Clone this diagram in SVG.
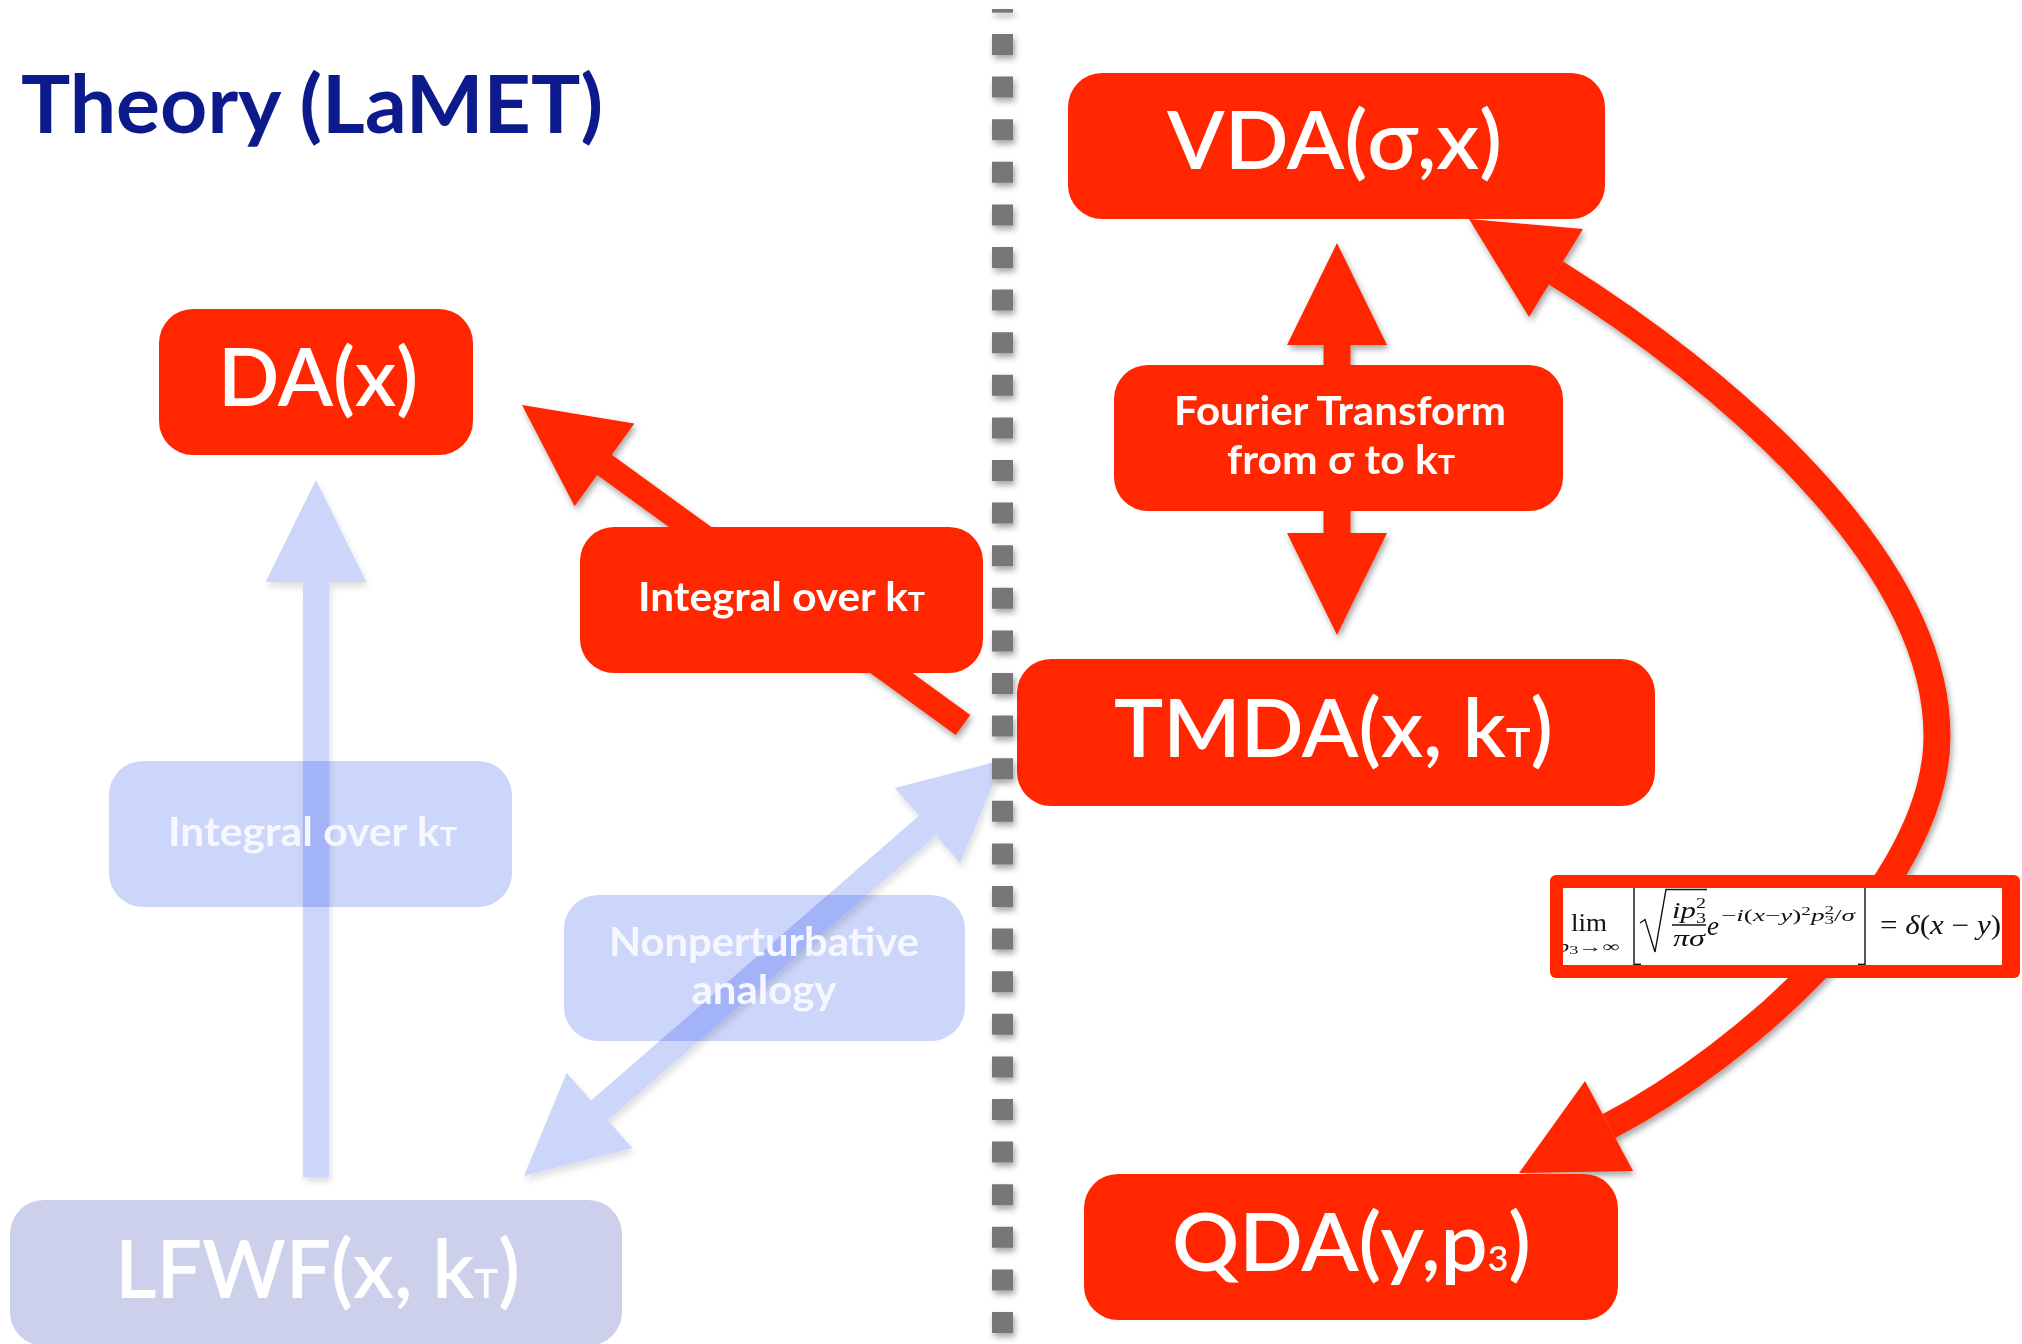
<svg xmlns="http://www.w3.org/2000/svg" width="2022" height="1344" viewBox="0 0 2022 1344">
  <defs>
    <style>
      .red { fill: #ff2600; }
      .faded { fill: #ccd6fb; }
      .blend { mix-blend-mode: multiply; }
      .big { font-family: Lato, "Liberation Sans", sans-serif; font-weight: 600; font-size: 80px; fill: #ffffff; text-anchor: middle; }
      .lbl { font-family: Lato, "Liberation Sans", sans-serif; font-weight: 700; font-size: 40px; fill: #ffffff; text-anchor: middle; }
      .flbl { fill: #f7f8ff; }
      .math { font-family: "Liberation Serif", "DejaVu Serif", serif; fill: #111111; }
      .it { font-style: italic; }
      .rule { stroke: #111111; stroke-width: 1.4; fill: none; }
    </style>
    <filter id="shadow" filterUnits="userSpaceOnUse" x="0" y="0" width="2022" height="1344">
      <feDropShadow dx="2" dy="4" stdDeviation="3" flood-color="#000000" flood-opacity="0.35"/>
    </filter>
    <filter id="softShadow" filterUnits="userSpaceOnUse" x="0" y="0" width="2022" height="1344">
      <feDropShadow dx="2" dy="5" stdDeviation="3" flood-color="#000000" flood-opacity="0.12"/>
    </filter>
    <clipPath id="formulaClip">
      <rect x="1563" y="888" width="439" height="77"/>
    </clipPath>
  </defs>

  <rect width="2022" height="1344" fill="#ffffff"/>

  <!-- heading -->
  <text x="21" y="133" font-family="Lato, 'Liberation Sans', sans-serif" font-weight="700" font-size="80" fill="#0d1a8c" textLength="582" lengthAdjust="spacingAndGlyphs">Theory (LaMET)</text>

  <!-- connectors -->
  <g id="connectors">
    <!-- faded: LFWF up to DA -->
    <polygon class="faded" filter="url(#softShadow)" points="316,480 366.5,582 329,582 329,1177 303,1177 303,582 265.5,582"/>
    <!-- faded: LFWF <-> TMDA -->
    <polygon class="faded" filter="url(#softShadow)" points="1003,760 960.3,863.4 936,835.4 608,1120.2 632.3,1148.2 524,1176 566.7,1072.7 591,1100.6 919,815.8 894.7,787.9"/>
    <!-- TMDA to DA, integral over kT -->
    <polygon class="red" filter="url(#shadow)" points="522,405 574.6,506.2 597.2,475 955.7,735.1 970.3,714.9 611.8,454.8 634.4,423.6"/>
    <!-- VDA <-> TMDA, Fourier transform -->
    <polygon class="red" filter="url(#shadow)" points="1337,243 1387,345 1350.5,345 1350.5,533 1387,533 1337,635 1287,533 1323.5,533 1323.5,345 1287,345"/>
    <!-- QDA <-> VDA curve -->
    <g filter="url(#shadow)">
      <path d="M1609,1126 C1745,1055 1937,886 1937,736 C1937,560 1726,379 1556,273" fill="none" stroke="#ff2600" stroke-width="27"/>
      <polygon class="red" points="1469,219 1583,229 1529,317"/>
      <polygon class="red" points="1519,1173 1585,1081 1633,1171"/>
    </g>
  </g>

  <!-- nodes -->
  <g id="node-da">
    <rect class="red" x="159" y="309" width="314" height="146" rx="34"/>
    <text class="big" x="318" y="406" textLength="200" lengthAdjust="spacingAndGlyphs">DA(x)</text>
  </g>

  <g id="node-vda">
    <rect class="red" x="1068" y="73" width="537" height="146" rx="34"/>
    <text class="big" x="1334.5" y="169" textLength="335" lengthAdjust="spacingAndGlyphs">VDA(σ,x)</text>
  </g>

  <g id="node-fourier">
    <rect class="red" x="1114" y="365" width="449" height="146" rx="34"/>
    <text class="lbl" x="1340" y="425" textLength="332" lengthAdjust="spacingAndGlyphs">Fourier Transform</text>
    <text class="lbl" x="1341" y="474" textLength="228" lengthAdjust="spacingAndGlyphs">from σ to k<tspan font-size="27">T</tspan></text>
  </g>

  <g id="node-integral">
    <rect class="red" x="580" y="527" width="403" height="146" rx="34"/>
    <text class="lbl" x="781.5" y="611" textLength="287" lengthAdjust="spacingAndGlyphs">Integral over k<tspan font-size="27">T</tspan></text>
  </g>

  <g id="node-tmda">
    <rect class="red" x="1017" y="659" width="638" height="147" rx="34"/>
    <text class="big" x="1333.5" y="757" textLength="439" lengthAdjust="spacingAndGlyphs">TMDA(x, k<tspan font-size="40">T</tspan>)</text>
  </g>

  <g id="node-formula">
    <rect class="red" x="1550" y="875" width="470" height="103" rx="6"/>
    <rect x="1563" y="888" width="439" height="77" fill="#ffffff"/>
    <g clip-path="url(#formulaClip)" class="math">
      <text x="1571" y="931" font-size="26" textLength="36" lengthAdjust="spacingAndGlyphs">lim</text>
      <text x="1557" y="952" font-size="16" textLength="63" lengthAdjust="spacingAndGlyphs"><tspan class="it">p</tspan><tspan font-size="12" dy="2">3</tspan><tspan dy="-2">→∞</tspan></text>
      <line class="rule" x1="1634" y1="888" x2="1634" y2="965"/>
      <line class="rule" x1="1634" y1="964.3" x2="1641" y2="964.3"/>
      <line class="rule" x1="1865" y1="888" x2="1865" y2="965"/>
      <line class="rule" x1="1858" y1="964.3" x2="1865" y2="964.3"/>
      <path class="rule" d="M1640,923 L1645,919.5 L1655,952 L1666,889.5 L1707,889.5" stroke-width="1.6"/>
      <text x="1672" y="918" font-size="23" textLength="34" lengthAdjust="spacingAndGlyphs"><tspan class="it">ip</tspan><tspan font-size="15" dy="5">3</tspan><tspan font-size="15" dx="-7.5" dy="-15">2</tspan></text>
      <line class="rule" x1="1672" y1="925" x2="1706" y2="925"/>
      <text x="1673" y="946" font-size="23" class="it" textLength="32" lengthAdjust="spacingAndGlyphs">πσ</text>
      <text x="1707" y="935" font-size="27" class="it">e</text>
      <text x="1721" y="921" font-size="17" textLength="134" lengthAdjust="spacingAndGlyphs">−<tspan class="it">i</tspan>(<tspan class="it">x</tspan>−<tspan class="it">y</tspan>)<tspan font-size="12" dy="-6">2</tspan><tspan class="it" dy="6">p</tspan><tspan font-size="12" dy="3">3</tspan><tspan font-size="12" dx="-6" dy="-10">2</tspan><tspan dy="7">/</tspan><tspan class="it">σ</tspan></text>
      <text x="1880" y="934" font-size="27" textLength="121" lengthAdjust="spacingAndGlyphs">= <tspan class="it">δ</tspan>(<tspan class="it">x</tspan> − <tspan class="it">y</tspan>)</text>
    </g>
  </g>

  <g id="node-qda">
    <rect class="red" x="1084" y="1174" width="534" height="146" rx="34"/>
    <text class="big" x="1351.5" y="1271" textLength="359" lengthAdjust="spacingAndGlyphs">QDA(y,p<tspan font-size="34">3</tspan>)</text>
  </g>

  <g id="node-integral-faded">
    <rect class="faded blend" x="109" y="761" width="403" height="146" rx="34"/>
    <text class="lbl flbl" x="312.5" y="846" textLength="289" lengthAdjust="spacingAndGlyphs">Integral over k<tspan font-size="27">T</tspan></text>
  </g>

  <g id="node-analogy">
    <rect class="faded blend" x="564" y="895" width="401" height="146" rx="34"/>
    <text class="lbl flbl" x="764" y="956" textLength="310" lengthAdjust="spacingAndGlyphs">Nonperturbative</text>
    <text class="lbl flbl" x="764" y="1004" textLength="145" lengthAdjust="spacingAndGlyphs">analogy</text>
  </g>

  <g id="node-lfwf">
    <rect x="10" y="1200" width="612" height="146" rx="34" fill="#ccd0ea"/>
    <text class="big" x="317.5" y="1298" textLength="405" lengthAdjust="spacingAndGlyphs">LFWF(x, k<tspan font-size="40">T</tspan>)</text>
  </g>

  <!-- dividing dashed line -->
  <g id="divider" filter="url(#shadow)" fill="#777777">
    <rect x="992" y="9" width="21" height="3.7"/>
    <line x1="1002.5" y1="34" x2="1002.5" y2="1344" stroke="#777777" stroke-width="21" stroke-dasharray="21 21.6"/>
  </g>
</svg>
